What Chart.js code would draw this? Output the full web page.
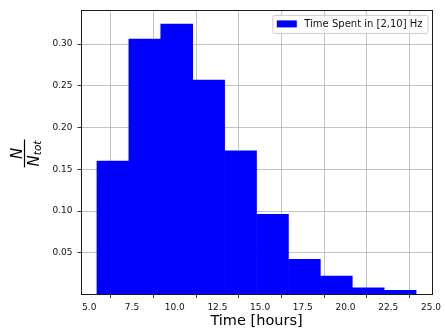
<!DOCTYPE html>
<html>
<head>
<meta charset="utf-8">
<script src="https://cdn.jsdelivr.net/npm/chart.js@4/dist/chart.umd.min.js"></script>
<style>
    html, body { margin: 0; padding: 0; background: #ffffff; }
    #wrap { width: 445px; height: 328px; }
</style>
</head>
<body>
<div id="wrap"><canvas id="hist" width="445" height="328"></canvas></div>
<script>
// histogram bins (centres in hours) and the fraction of time in each
const binCenters = [6.384, 8.252, 10.120, 11.988, 13.856, 15.724, 17.592, 19.460, 21.328, 23.196];
const fractions = [0.160, 0.306, 0.324, 0.257, 0.172, 0.096, 0.042, 0.022, 0.008, 0.005];
const xTicks = [5, 7.5, 10, 12.5, 15, 17.5, 20, 22.5, 25];
const yTicks = [0.05, 0.10, 0.15, 0.20, 0.25, 0.30];
const seriesLabel = "Time Spent in [2,10] Hz";
const xTitle = "Time [hours]";

const FONT = "'DejaVu Sans', sans-serif";
const gridColor = "rgba(176,176,176,0.75)";

// black frame around the plot area
const framePlugin = {
    id: "frame",
    afterDraw(chart) {
        const { ctx, chartArea: a } = chart;
        ctx.save();
        ctx.strokeStyle = "#1a1a1a";
        ctx.lineWidth = 1;
        ctx.strokeRect(Math.round(a.left) + 0.5, Math.round(a.top) + 0.5,
            Math.round(a.right - a.left), Math.round(a.bottom - a.top));
        ctx.restore();
    },
};

// legend box in the upper right corner of the plot
const legendBoxPlugin = {
    id: "legendBox",
    afterDraw(chart) {
        const { ctx, chartArea: a } = chart;
        const ds = chart.data.datasets[0];
        ctx.save();
        ctx.font = "10px " + FONT;
        const textW = ctx.measureText(ds.label).width;
        const w = 4 + 20 + 8 + textW + 5;
        const h = 18;
        const x = a.right - 4.5 - w;
        const y = a.top + 4.5;
        ctx.beginPath();
        ctx.roundRect(x + 0.5, y + 0.5, w, h, 2);
        ctx.fillStyle = "rgba(255,255,255,0.8)";
        ctx.fill();
        ctx.strokeStyle = "#cccccc";
        ctx.lineWidth = 1;
        ctx.stroke();
        ctx.fillStyle = ds.backgroundColor;
        ctx.fillRect(x + 4.5, y + 5.5, 20, 7);
        ctx.fillStyle = "#111";
        ctx.textBaseline = "middle";
        ctx.textAlign = "left";
        ctx.fillText(ds.label, x + 32, y + 9.5);
        ctx.restore();
    },
};

// y axis title: N over N_tot, rotated
const fractionTitlePlugin = {
    id: "fractionTitle",
    afterDraw(chart) {
        const { ctx, chartArea: a } = chart;
        const cx = 24.5;
        const cy = (a.top + a.bottom) / 2 + 1;
        const big = "italic 15px " + FONT;
        const small = "italic 10.5px " + FONT;
        ctx.save();
        ctx.translate(cx, cy);
        ctx.rotate(-Math.PI / 2);
        ctx.fillStyle = "#000";
        ctx.textBaseline = "alphabetic";

        ctx.font = big;
        const nW = ctx.measureText("N").width;
        ctx.font = small;
        const subW = ctx.measureText("tot").width;
        const denomW = nW + subW;
        const lineW = denomW + 2;

        ctx.fillRect(-lineW / 2, -0.6, lineW, 1.2);

        ctx.font = big;
        ctx.textAlign = "left";
        ctx.fillText("N", -nW / 2, -3);
        ctx.fillText("N", -denomW / 2, 14);
        ctx.font = small;
        ctx.fillText("tot", -denomW / 2 + nW, 16.5);
        ctx.restore();
    },
};

const ctx = document.getElementById("hist").getContext("2d");

new Chart(ctx, {
    type: "bar",
    data: {
        datasets: [
            {
                label: seriesLabel,
                data: binCenters.map((c, i) => {
                    return { x: c, y: fractions[i] };
                }),
                backgroundColor: "#0000ff",
                borderWidth: 0,
                barPercentage: 1,
                categoryPercentage: 1,
            },
        ],
    },
    options: {
        responsive: false,
        animation: false,
        devicePixelRatio: 1,
        layout: { padding: { left: 0, right: 10, top: 7, bottom: 0 } },
        plugins: {
            legend: { display: false },
            tooltip: { enabled: false },
        },
        scales: {
            x: {
                type: "linear",
                min: 4.516,
                max: 25.064,
                offset: false,
                z: 1,
                border: { display: false },
                grid: {
                    color: gridColor,
                    tickColor: "#333",
                    tickLength: 3.5,
                    lineWidth: 1,
                },
                afterBuildTicks: (scale) => {
                    scale.ticks = xTicks.map((v) => ({ value: v }));
                },
                afterFit: (scale) => {
                    scale.height = 33.5;
                },
                ticks: {
                    autoSkip: false,
                    maxRotation: 0,
                    padding: 4,
                    color: "#111",
                    font: { family: FONT, size: 9 },
                    callback: (v) => Number(v).toFixed(1),
                },
                title: {
                    display: true,
                    text: xTitle,
                    color: "#000",
                    font: { family: FONT, size: 14.5 },
                    padding: { top: 0, bottom: -1.5 },
                },
            },
            y: {
                min: 0,
                max: 0.3404,
                z: 1,
                border: { display: false },
                grid: {
                    color: gridColor,
                    tickColor: "#333",
                    tickLength: 3.5,
                    lineWidth: 1,
                },
                afterBuildTicks: (scale) => {
                    scale.ticks = yTicks.map((v) => ({ value: v }));
                },
                afterFit: (scale) => {
                    scale.width = 81;
                },
                ticks: {
                    padding: 5,
                    color: "#111",
                    font: { family: FONT, size: 9 },
                    callback: (v) => Number(v).toFixed(2),
                },
            },
        },
    },
    plugins: [framePlugin, legendBoxPlugin, fractionTitlePlugin],
});
</script>
</body>
</html>
